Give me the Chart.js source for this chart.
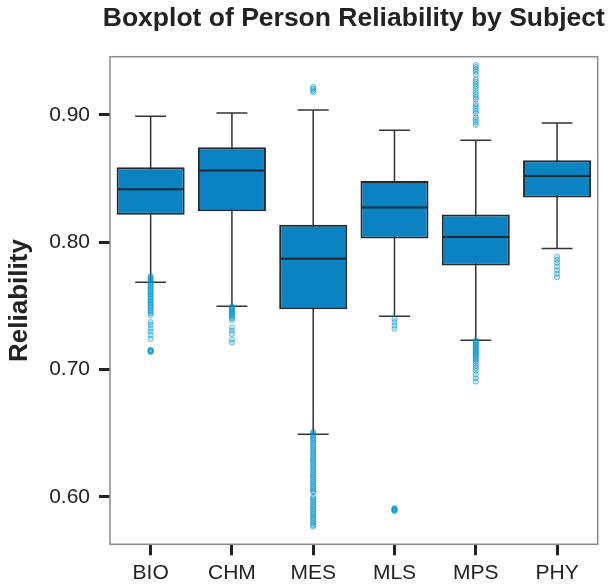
<!DOCTYPE html>
<html>
<head>
<meta charset="utf-8">
<script src="https://cdn.jsdelivr.net/npm/chart.js@4.4.1/dist/chart.umd.min.js"></script>
<style>
  html, body { margin: 0; padding: 0; background: #fff; }
  #wrap { width: 608px; height: 588px; }
</style>
</head>
<body>
<div id="wrap"><canvas id="grafico"></canvas></div>
<script>
// categorias e valores
const subjects = ['BIO', 'CHM', 'MES', 'MLS', 'MPS', 'PHY'];
const whiskerLow  = [0.7686, 0.7497, 0.6490, 0.7419, 0.7230, 0.7950];
const q1          = [0.8216, 0.8243, 0.7474, 0.8029, 0.7817, 0.8351];
const medians     = [0.8416, 0.8564, 0.7870, 0.8273, 0.8042, 0.8521];
const q3          = [0.8589, 0.8746, 0.8138, 0.8482, 0.8218, 0.8644];
const whiskerHigh = [0.8990, 0.9016, 0.9039, 0.8880, 0.8801, 0.8937];
const yTicks = [0.60, 0.70, 0.80, 0.90];

const titulo = 'Boxplot of Person Reliability by Subject';

// outliers por disciplina
const bioOut = [0.7734, 0.7722, 0.7710, 0.7698, 0.7686, 0.7675, 0.7664, 0.7652, 0.7640, 0.7628,
  0.7616, 0.7604, 0.7592, 0.7580, 0.7568, 0.7556, 0.7544, 0.7532, 0.7520, 0.7508, 0.7496, 0.7484,
  0.7470, 0.7456, 0.7442, 0.7428, 0.7372, 0.7350, 0.7322, 0.7298, 0.7270, 0.7240,
  0.7150, 0.7146, 0.7142, 0.7138, 0.7154];
const chmOut = [0.7497, 0.7488, 0.7479, 0.7470, 0.7461, 0.7452, 0.7443, 0.7434, 0.7424, 0.7414,
  0.7402, 0.7390, 0.7330, 0.7305, 0.7280, 0.7235, 0.7210];
const mesOut = [0.9220, 0.9206, 0.9192, 0.9178,
  0.6510, 0.6498, 0.6486, 0.6474, 0.6462, 0.6450, 0.6436, 0.6422, 0.6408, 0.6394, 0.6380, 0.6366,
  0.6352, 0.6338, 0.6324, 0.6310, 0.6296, 0.6282, 0.6268, 0.6254, 0.6240, 0.6226, 0.6212, 0.6198,
  0.6184, 0.6170, 0.6156, 0.6142, 0.6128, 0.6114, 0.6100, 0.6086, 0.6072, 0.6058, 0.6044, 0.6038,
  0.6000, 0.5988, 0.5974, 0.5960, 0.5946, 0.5932, 0.5918, 0.5904, 0.5890, 0.5876, 0.5862, 0.5848,
  0.5834, 0.5820, 0.5806, 0.5792, 0.5778, 0.5765];
const mlsOut = [0.7395, 0.7372, 0.7345, 0.7320,
  0.5900, 0.5896, 0.5892, 0.5888, 0.5904, 0.5910];
const mpsOut = [0.9392, 0.9376, 0.9358, 0.9340, 0.9318,
  0.9280, 0.9262, 0.9244, 0.9226, 0.9206, 0.9180, 0.9160, 0.9140, 0.9122,
  0.9090, 0.9070, 0.9050, 0.9030, 0.9012, 0.8980, 0.8962, 0.8942, 0.8922,
  0.7230, 0.7220, 0.7210, 0.7200, 0.7190, 0.7180, 0.7170, 0.7160, 0.7150, 0.7140, 0.7130,
  0.7120, 0.7110, 0.7100, 0.7088, 0.7076, 0.7062, 0.7048, 0.7030, 0.7010, 0.6990, 0.6960, 0.6930, 0.6905];
const phyOut = [0.7885, 0.7862, 0.7838, 0.7808, 0.7780, 0.7752, 0.7725];

const outliers = [bioOut, chmOut, mesOut, mlsOut, mpsOut, phyOut];

const fonte = "'Liberation Sans', Arial, Helvetica, sans-serif";

// pontos dos outliers no formato {x: categoria, y: valor}
const pontosOutliers = [];
outliers.forEach((lista, i) => {
    lista.forEach(v => pontosOutliers.push({ x: subjects[i], y: v }));
});

// desenha bigodes, medianas, moldura e titulo usando as escalas do chart
const boxplotPlugin = {
    id: 'boxplotExtras',
    beforeDatasetsDraw(chart) {
        const { ctx, scales: { x, y } } = chart;
        const larguraCat = x.getPixelForValue(1) - x.getPixelForValue(0);
        const meiaTampa = larguraCat * 0.19;
        ctx.save();
        ctx.strokeStyle = '#333';
        ctx.lineWidth = 1.5;
        subjects.forEach((s, i) => {
            const cx = x.getPixelForValue(i);
            const yLo = y.getPixelForValue(whiskerLow[i]);
            const yHi = y.getPixelForValue(whiskerHigh[i]);
            ctx.beginPath();
            ctx.moveTo(cx, yLo);
            ctx.lineTo(cx, yHi);
            ctx.moveTo(cx - meiaTampa, yLo);
            ctx.lineTo(cx + meiaTampa, yLo);
            ctx.moveTo(cx - meiaTampa, yHi);
            ctx.lineTo(cx + meiaTampa, yHi);
            ctx.stroke();
        });
        ctx.restore();
    },
    afterDatasetsDraw(chart) {
        const { ctx, chartArea, scales: { x, y } } = chart;
        const larguraCat = x.getPixelForValue(1) - x.getPixelForValue(0);
        const meiaCaixa = larguraCat * 0.837 / 2;
        ctx.save();
        ctx.strokeStyle = '#1e2a32';
        ctx.lineWidth = 2;
        subjects.forEach((s, i) => {
            const cx = x.getPixelForValue(i);
            const ym = y.getPixelForValue(medians[i]);
            ctx.beginPath();
            ctx.moveTo(cx - meiaCaixa + 1, ym);
            ctx.lineTo(cx + meiaCaixa - 1, ym);
            ctx.stroke();
        });
        // moldura da area do grafico
        ctx.strokeStyle = '#8a8a8a';
        ctx.lineWidth = 1.5;
        ctx.strokeRect(chartArea.left, chartArea.top,
            chartArea.right - chartArea.left, chartArea.bottom - chartArea.top);
        // titulo centralizado sobre a area do grafico
        ctx.fillStyle = '#222';
        ctx.font = 'bold 26.5px ' + fonte;
        ctx.textAlign = 'center';
        ctx.textBaseline = 'alphabetic';
        ctx.fillText(titulo, (chartArea.left + chartArea.right) / 2, 26);
        ctx.restore();
    }
};

const ctx = document.getElementById('grafico');

new Chart(ctx, {
    type: 'bar',
    data: {
        labels: subjects,
        datasets: [
            {
                type: 'line',
                label: 'outliers',
                data: pontosOutliers,
                showLine: false,
                pointRadius: 2.6,
                pointBorderWidth: 1,
                pointBorderColor: 'rgba(0, 150, 205, 0.55)',
                pointBackgroundColor: 'rgba(0, 150, 205, 0.18)',
                order: 0
            },
            {
                label: 'caixa',
                data: subjects.map((s, i) => [q1[i], q3[i]]),
                backgroundColor: '#0b82c1',
                borderColor: '#222a30',
                borderWidth: 2,
                borderSkipped: false,
                categoryPercentage: 1.0,
                barPercentage: 0.837,
                order: 1
            }
        ]
    },
    options: {
        responsive: true,
        maintainAspectRatio: false,
        animation: false,
        layout: { padding: { left: 0, right: 10.3, top: 56.7, bottom: 0 } },
        plugins: {
            legend: { display: false },
            tooltip: { enabled: false },
            title: { display: false }
        },
        scales: {
            x: {
                type: 'category',
                offset: true,
                grid: {
                    display: true,
                    offset: false,
                    drawOnChartArea: false,
                    drawTicks: true,
                    tickLength: 11,
                    tickWidth: 3,
                    tickColor: '#222'
                },
                border: { display: false },
                ticks: {
                    color: '#222',
                    padding: 5,
                    font: { family: fonte, size: 21 }
                },
                afterFit: scale => { scale.height = 43.7; }
            },
            y: {
                type: 'linear',
                min: 0.5626,
                max: 0.9458,
                afterBuildTicks: scale => {
                    scale.ticks = yTicks.map(v => ({ value: v }));
                },
                grid: {
                    display: true,
                    drawOnChartArea: false,
                    drawTicks: true,
                    tickLength: 11,
                    tickWidth: 3,
                    tickColor: '#222'
                },
                border: { display: false },
                ticks: {
                    color: '#222',
                    padding: 9,
                    font: { family: fonte, size: 21 },
                    callback: v => Number(v).toFixed(2)
                },
                title: {
                    display: true,
                    text: 'Reliability',
                    color: '#222',
                    font: { family: fonte, size: 26, weight: 'bold', lineHeight: 1.2 },
                    padding: { top: 4, bottom: 0 }
                },
                afterFit: scale => { scale.width = 110; }
            }
        }
    },
    plugins: [boxplotPlugin]
});
</script>
</body>
</html>
